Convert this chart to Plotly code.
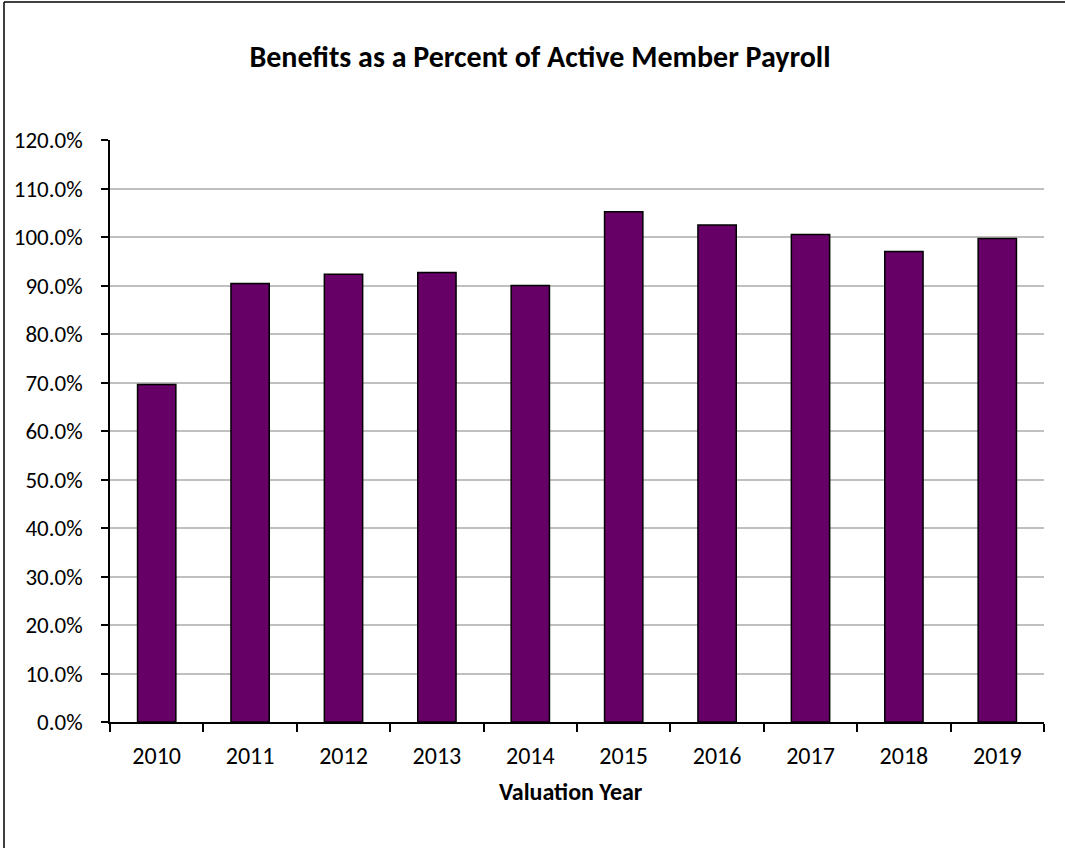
import plotly.graph_objects as go

years = ["2010", "2011", "2012", "2013", "2014", "2015", "2016", "2017", "2018", "2019"]
benefit_pct = [69.6, 90.4, 92.3, 92.7, 90.0, 105.2, 102.5, 100.5, 97.0, 99.7]
y_ticks = [0, 10, 20, 30, 40, 50, 60, 70, 80, 90, 100, 110, 120]
y_tick_text = [f"{v:.1f}%" for v in y_ticks]

W, H = 1065, 848
L, R, T, B = 110, 1044, 140, 722
pw, ph = R - L, B - T


def px_x(p):
    return (p - L) / pw


def px_y(p):
    return (B - p) / ph


font_main = "Carlito, Calibri, 'Liberation Sans Narrow', 'Open Sans', sans-serif"

fig = go.Figure(
    go.Bar(
        x=years,
        y=benefit_pct,
        marker=dict(color="#660066", line=dict(color="#000000", width=1.5)),
        width=0.41,
        hoverinfo="x+y",
    )
)

fig.update_layout(
    width=W,
    height=H,
    margin=dict(l=L, r=W - R, t=T, b=H - B),
    paper_bgcolor="white",
    plot_bgcolor="white",
    showlegend=False,
    font=dict(family=font_main, color="#000000", size=16),
    title=dict(
        text="<b>Benefits as a Percent of Active Member Payroll</b>",
        x=540 / W, xanchor="center",
        y=1 - 56 / H, yanchor="middle", yref="container",
        font=dict(size=30, family=font_main, color="#000000"),
    ),
    xaxis=dict(
        type="category",
        showline=True, linecolor="#000000", linewidth=1.5,
        ticks="outside", tickson="boundaries", ticklen=8, tickcolor="#000000", tickwidth=1.5,
        tickfont=dict(size=24, family=font_main),
        showgrid=False,
        zeroline=False,
        ticklabelstandoff=11,
    ),
    yaxis=dict(
        range=[0, 120],
        tickvals=y_ticks,
        ticktext=y_tick_text,
        showline=True, linecolor="#000000", linewidth=1.5,
        ticks="outside", ticklen=7, tickcolor="#000000", tickwidth=1.5,
        showgrid=True, gridcolor="#c0c0c0", gridwidth=1.5,
        zeroline=False,
        tickfont=dict(size=23, family=font_main),
        ticklabelstandoff=14,
    ),
    annotations=[
        dict(
            text="<b>Valuation Year</b>",
            xref="paper", yref="paper",
            x=px_x(571), y=px_y(791),
            xanchor="center", yanchor="middle",
            showarrow=False,
            font=dict(size=24, family=font_main),
        )
    ],
    shapes=[
        # chart frame: top and left edges
        dict(
            type="line", xref="paper", yref="paper",
            x0=px_x(4), x1=px_x(1065), y0=px_y(2), y1=px_y(2),
            line=dict(color="#000000", width=1.5),
        ),
        dict(
            type="line", xref="paper", yref="paper",
            x0=px_x(4), x1=px_x(4), y0=px_y(2), y1=px_y(848),
            line=dict(color="#000000", width=1.5),
        ),
    ],
)

fig.write_html("out.html")
